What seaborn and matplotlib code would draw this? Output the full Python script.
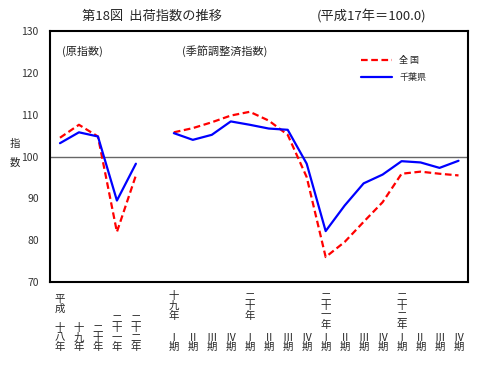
import numpy as np
import pandas as pd
import matplotlib
matplotlib.use('Agg')
import matplotlib.pyplot as plt
import matplotlib.transforms as mtrans
import seaborn as sns

# annual values (H18-H22), then quarterly (H19 I - H22 IV); index 5 is a gap
annual_pos = [0, 1, 2, 3, 4]
quarter_pos = list(range(6, 22))

zenkoku_annual = [104.5, 107.6, 104.8, 82.0, 95.5]
chiba_annual = [103.2, 105.8, 104.8, 89.5, 98.3]
zenkoku_quarter = [105.8, 106.8, 108.2, 109.8, 110.7, 108.6, 105.2, 95.1,
                   76.0, 79.6, 84.4, 89.1, 95.9, 96.4, 95.9, 95.5]
chiba_quarter = [105.6, 104.0, 105.2, 108.4, 107.6, 106.7, 106.4, 98.3,
                 82.2, 88.3, 93.6, 95.7, 98.9, 98.6, 97.3, 99.0]

annual_labels = ["平\n成\n\n十\n八\n年", "十\n九\n年", "二\n十\n年",
                 "二\n十\n一\n年", "二\n十\n二\n年"]
year_labels = {6: "十\n九\n年", 10: "二\n十\n年", 14: "二\n十\n一\n年", 18: "二\n十\n二\n年"}
quarter_labels = ["Ⅰ\n期", "Ⅱ\n期", "Ⅲ\n期", "Ⅳ\n期"]

series_names = ["全 国", "千葉県"]


def build_frame():
    rows = []
    for name, ann, qtr in [(series_names[0], zenkoku_annual, zenkoku_quarter),
                           (series_names[1], chiba_annual, chiba_quarter)]:
        for x, v in zip(annual_pos, ann):
            rows.append({'x': x, 'value': v, 'series': name, 'seg': 'annual'})
        for x, v in zip(quarter_pos, qtr):
            rows.append({'x': x, 'value': v, 'series': name, 'seg': 'quarter'})
    return pd.DataFrame(rows)


sns.set_theme(style='white')
plt.rcParams['font.family'] = ['Noto Sans CJK JP', 'DejaVu Sans']

df = build_frame()

fig = plt.figure(figsize=(4.8, 3.65), dpi=100)
ax = fig.add_axes([0.104, 0.227, 0.871, 0.688])

ax.axhline(100, color='#666666', linewidth=1.0, zorder=1)

sns.lineplot(data=df, x='x', y='value', hue='series', style='series',
             units='seg', estimator=None, ax=ax,
             palette={series_names[0]: '#FF0000', series_names[1]: '#0000FF'},
             dashes={series_names[0]: (3, 1.6), series_names[1]: ''},
             hue_order=series_names, style_order=series_names,
             linewidth=1.6, zorder=3)

ax.set_xlim(-0.53, 21.5)
ax.set_ylim(70, 130)
ax.set_yticks(np.arange(70, 131, 10))
ax.set_xticks(range(22))
ax.set_xticklabels([''] * 22)
ax.tick_params(axis='both', direction='in', length=4, width=1, color='black',
               labelsize=7.5, labelcolor='#333333')
ax.tick_params(axis='y', pad=8)
for s in ax.spines.values():
    s.set_color('black')
    s.set_linewidth(1.5)
ax.set_xlabel('')
ax.set_ylabel('')

leg = ax.legend(loc='upper left', bbox_to_anchor=(0.745, 0.9), frameon=False,
                fontsize=6.5, handlelength=3.4, handletextpad=0.8,
                labelspacing=0.9, borderpad=0, borderaxespad=0)

# x labels
tr = mtrans.blended_transform_factory(ax.transData, fig.transFigure)
for x, lab in zip(annual_pos, annual_labels):
    ax.text(x, 0.035, lab, transform=tr, ha='center', va='bottom',
            fontsize=7.5, linespacing=0.95)
for x in quarter_pos:
    ax.text(x, 0.035, quarter_labels[(x - 6) % 4], transform=tr, ha='center',
            va='bottom', fontsize=7.5, linespacing=0.95)
for x, lab in year_labels.items():
    ax.text(x, 0.202, lab, transform=tr, ha='center', va='top',
            fontsize=7.5, linespacing=0.95)

fig.text(0.17, 0.955, '第18図  出荷指数の推移', fontsize=9.5, va='center')
fig.text(0.66, 0.955, '(平成17年＝100.0)', fontsize=9.5, va='center')
fig.text(0.02, 0.58, '指\n\n数', fontsize=7.5, va='center', ha='left', linespacing=0.9)
ax.text(0.03, 0.92, '(原指数)', transform=ax.transAxes, fontsize=8, va='center')
ax.text(0.315, 0.92, '(季節調整済指数)', transform=ax.transAxes, fontsize=8, va='center')

fig.savefig('out.png', dpi=100)
